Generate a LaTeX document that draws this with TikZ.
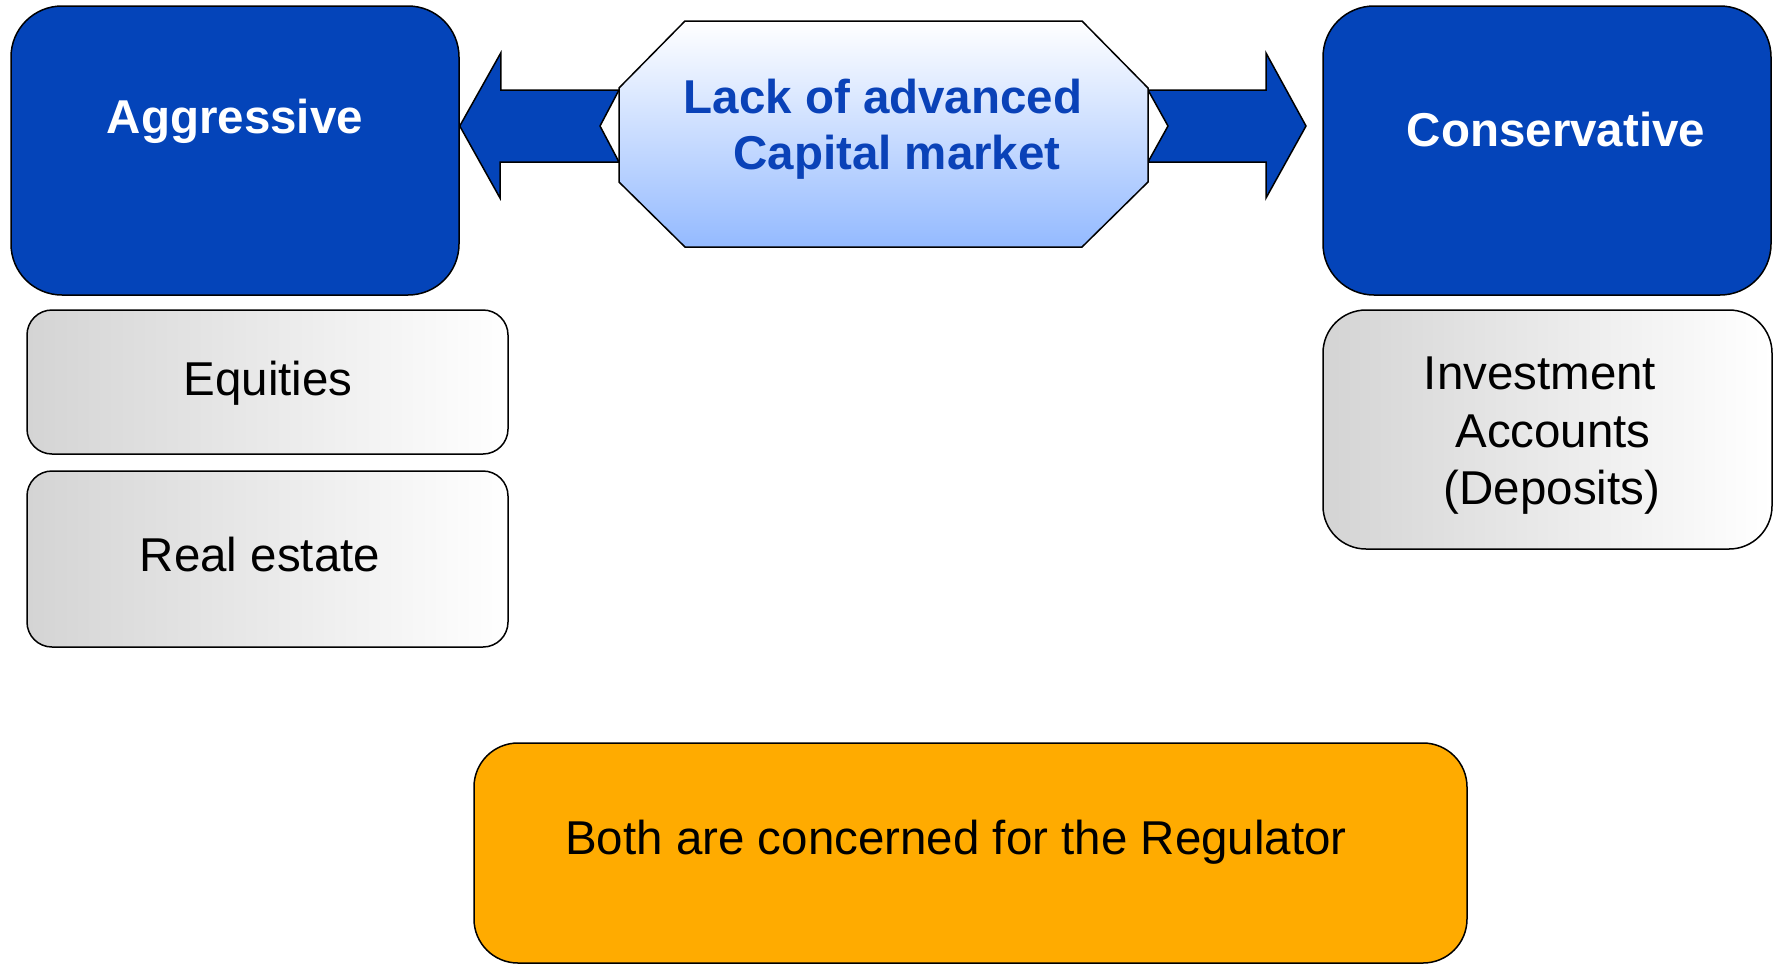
\documentclass[tikz,border=0pt]{standalone}
\usepackage{fontspec}
\setmainfont{Liberation Sans}
\usetikzlibrary{calc}
\definecolor{boxblue}{RGB}{4,68,185}
\definecolor{txtblue}{RGB}{10,66,184}
\definecolor{octblue}{RGB}{148,186,255}
\definecolor{regorange}{RGB}{255,171,0}
\definecolor{lgray}{RGB}{212,212,212}
\begin{document}
\begin{tikzpicture}[x=0.5pt,y=-0.5pt,line width=0.75pt,
  bigbox/.style={draw=black,fill=boxblue,rounded corners=25.5pt,inner sep=0pt,
    minimum width=224pt,minimum height=144.5pt},
  graybox/.style={draw=black,left color=lgray,right color=white,inner sep=0pt},
  txt/.style={font=\fontsize{23.75}{28.75}\selectfont,inner sep=0pt,align=center},
  headtxt/.style={txt,font=\fontsize{23.75}{28.75}\selectfont\bfseries,text=white},
  octtxt/.style={txt,font=\fontsize{23.75}{28.25}\selectfont\bfseries,text=txtblue},
  bluearrow/.style={draw=black,fill=boxblue,line join=miter}]
\useasboundingbox (0,0) rectangle (1778,965);

% main boxes
\node[bigbox] (agg) at (235,150.5) {};
\node[bigbox] (cons) at (1547,150.5) {};
\node[headtxt,anchor=base] (aggT) at (235,133) {Aggressive};
\node[headtxt,anchor=base] (consT) at (1556,146) {Conservative};

% arrows (drawn before the octagon)
\coordinate (ltip) at (agg.east |- 0,126);
\draw[bluearrow] (ltip) -- ++(41,-73) -- ++(0,37) -- (619,90) -- (600,126) -- (619,162)
  -- (500,162) -- ++(0,36) -- cycle;
\coordinate (rtip) at (1306,126);
\draw[bluearrow] (rtip) -- (1266,53) -- (1266,90) -- (1148,90) -- (1168,126) -- (1148,162)
  -- (1266,162) -- (1266,198) -- cycle;

% octagon
\draw[top color=white,bottom color=octblue,line join=miter]
  (685,21) -- (1082,21) -- (1148,88) -- (1148,182) -- (1082,247) -- (685,247)
  -- (619,182) -- (619,88) -- cycle;
\node[octtxt] (oct) at (883,129) {Lack of advanced\\\hspace*{14pt}Capital market};

% gray boxes
\node[graybox,rounded corners=12.5pt,minimum width=240.5pt,minimum height=72pt] (eq) at (267.5,382) {};
\node[txt,anchor=base] (eqT) at (268,395) {Equities};
\node[graybox,rounded corners=12.5pt,minimum width=240.5pt,minimum height=88pt] (re) at (267.5,559) {};
\node[txt,anchor=base] (reT) at (260,571) {Real estate};
\node[graybox,rounded corners=21.5pt,minimum width=224.5pt,minimum height=119.5pt] (inv) at (1547.5,429.5) {};
\node[txt] (invT) at (1540,436) {Investment\\\hspace*{13pt}Accounts\\\hspace*{12pt}(Deposits)};

% regulator box
\node[draw=black,fill=regorange,rounded corners=22pt,inner sep=0pt,
  minimum width=496.5pt,minimum height=110pt] (reg) at (970.5,853) {};
\node[txt,anchor=base] (regT) at (956,854) {Both are concerned for the Regulator};
\end{tikzpicture}
\end{document}
